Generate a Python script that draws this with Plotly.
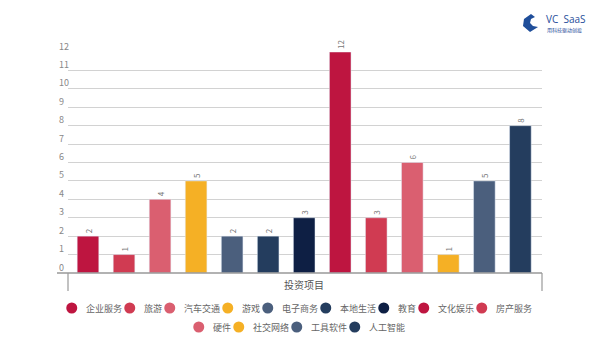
import plotly.graph_objects as go

categories = ["企业服务", "旅游", "汽车交通", "游戏", "电子商务", "本地生活", "教育",
              "文化娱乐", "房产服务", "硬件", "社交网络", "工具软件", "人工智能"]
values = [2, 1, 4, 5, 2, 2, 3, 12, 3, 6, 1, 5, 8]
colors = ["#BE1540", "#D03B52", "#DA5F70", "#F5B025", "#4B5F7D", "#243D5E", "#0E1F44",
          "#BE1540", "#D03B52", "#DA5F70", "#F5B025", "#4B5F7D", "#243D5E"]
y_ticks = list(range(0, 13))
axis_title = "投资项目"
legend_rows = [categories[:9], categories[9:]]

FONT = "Noto Sans CJK SC, Noto Sans, sans-serif"
W, H = 600, 357
ML, MR, MT, MB = 68, 58, 52, 84
PW, PH = W - ML - MR, H - MT - MB


def px(x):
    return (x - ML) / PW


def py(y):
    return (H - MB - y) / PH


fig = go.Figure()
for c, v, col in zip(categories, values, colors):
    fig.add_trace(go.Bar(
        x=[c], y=[v], name=c, marker_color=col, width=0.6,
        text=[str(v)], textposition="outside", textangle=-90,
        textfont=dict(size=8, color="#777", family=FONT),
        cliponaxis=False, showlegend=False,
    ))

fig.update_layout(
    width=W, height=H,
    margin=dict(l=ML, r=MR, t=MT, b=MB),
    plot_bgcolor="white", paper_bgcolor="white",
    barmode="overlay", showlegend=False,
    font=dict(family=FONT, color="#666"),
    xaxis=dict(
        categoryorder="array", categoryarray=categories,
        range=[-0.555, 12.6], showticklabels=False, showgrid=False,
        showline=False, zeroline=False, ticks="",
    ),
    yaxis=dict(
        range=[0, 12], tickvals=y_ticks, showgrid=True, gridcolor="#d2d2d2", gridwidth=1.2,
        zeroline=False, showline=False, showticklabels=False,
    ),
)

# y tick labels: left-aligned, sitting just above each grid line
for t in y_ticks:
    fig.add_annotation(text=str(t), xref="paper", yref="y", x=px(57), y=t,
                       xanchor="left", yanchor="middle", yshift=6, showarrow=False,
                       font=dict(size=9, color="#888", family=FONT))

# x axis line and bracket under it
fig.add_shape(type="line", xref="paper", yref="paper", x0=px(57), x1=1.0, y0=0, y1=0,
              line=dict(color="#999", width=1.5))
for xb in (0.0, 1.0):
    fig.add_shape(type="line", xref="paper", yref="paper", x0=xb, x1=xb, y0=0, y1=py(291),
                  line=dict(color="#999", width=1.2))
fig.add_annotation(text=axis_title, xref="paper", yref="paper", x=px(304), y=py(284),
                   xanchor="center", yanchor="middle",
                   showarrow=False, font=dict(size=10, color="#555", family=FONT))

# legend (circle marker + label), rows centred under the chart
CH = 9.0      # width of one CJK character at font size 9
R = 5.5       # circle radius
GAP_T = 12    # circle centre -> text start
GAP_N = 10    # text end -> next circle centre offset
row_y = [308, 327]
for row, yy in zip(legend_rows, row_y):
    widths = [GAP_T + CH * len(n) for n in row]
    total = sum(widths) + GAP_N * (len(row) - 1) + R
    x = 298 - total / 2 + R
    for n in row:
        col = colors[categories.index(n)]
        fig.add_shape(type="circle", xref="paper", yref="paper",
                      x0=px(x - R), x1=px(x + R), y0=py(yy + R), y1=py(yy - R),
                      fillcolor=col, line=dict(width=0))
        fig.add_annotation(text=n, xref="paper", yref="paper", x=px(x + GAP_T), y=py(yy),
                           xanchor="left", yanchor="middle", showarrow=False,
                           font=dict(size=9, color="#666", family=FONT))
        x += GAP_T + CH * len(n) + GAP_N

# logo
logo_pts = [(531, 14), (524, 19), (523, 26), (530, 32), (538, 27), (533, 26), (530, 23),
            (531, 19), (535, 17)]
path = "M " + " L ".join(f"{px(a):.4f} {py(b):.4f}" for a, b in logo_pts) + " Z"
fig.add_shape(type="path", xref="paper", yref="paper", path=path,
              line=dict(width=0), fillcolor="#1F4E9A")
fig.add_annotation(text="VC  SaaS", xref="paper", yref="paper", x=px(544), y=py(19),
                   xanchor="left", yanchor="middle", showarrow=False,
                   font=dict(size=10, color="#1F4E9A", family="Open Sans"))
fig.add_annotation(text="用科技驱动创投", xref="paper", yref="paper", x=px(545), y=py(30),
                   xanchor="left", yanchor="middle", showarrow=False,
                   font=dict(size=5, color="#1F4E9A", family=FONT))

fig.write_html("out.html", config={"displayModeBar": False},
               post_script="document.body.style.margin='0';"
                           "document.documentElement.style.overflow='hidden';")
